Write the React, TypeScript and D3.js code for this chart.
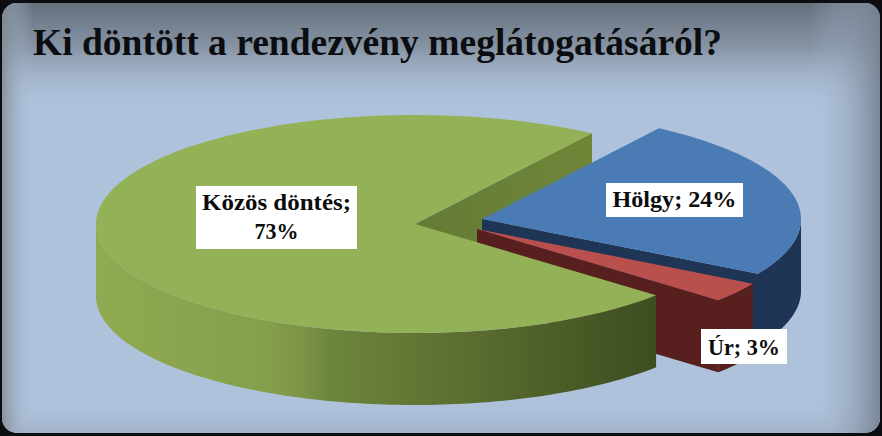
import React from "react";
import * as d3 from "d3";

const W = 882, H = 436;
const title = "Ki döntött a rendezvény meglátogatásáról?";
const categories = ["Hölgy", "Úr", "Közös döntés"];
const values = [24, 3, 73];
const topColors = ["#4a7bb5", "#b9504d", "#93b157"];
const wallColors = ["#1f3556", "#57201e", "url(#greenWall)"];
const offsets: [number, number][] = [[67, -5], [62, 5], [0, 0]];

const cx = 415, cy = 224, rx = 319, ry = 109, depth = 72;
const startAngle = (33.7 * Math.PI) / 180;
const serif = "'Liberation Serif', serif";

const pie = d3.pie<number>().sort(null).startAngle(startAngle).endAngle(startAngle + 2 * Math.PI);
const arcs = pie(values);

const sx = d3.scaleLinear().domain([-1, 1]).range([cx - rx, cx + rx]);
const sy = d3.scaleLinear().domain([-1, 1]).range([cy - ry, cy + ry]);
const line = d3.line<[number, number]>().curve(d3.curveLinear);
const pt = (a: number, dx: number, dy: number): [number, number] => [sx(Math.sin(a)) + dx, sy(-Math.cos(a)) + dy];
const rim = (a0: number, a1: number, dx: number, dy: number) =>
  d3.range(0, 121).map((i) => pt(a0 + ((a1 - a0) * i) / 120, dx, dy));

// outer wall is only drawn for the part of the rim facing the viewer
function outerWall(a0: number, a1: number, dx: number, dy: number) {
  const lo = Math.max(a0, Math.PI / 2);
  const hi = Math.min(a1, (3 * Math.PI) / 2);
  if (hi <= lo) return null;
  const top = rim(lo, hi, dx, dy);
  const bot = rim(hi, lo, dx, dy + depth);
  return line([...top, ...bot]) + "Z";
}
function edgeWall(a: number, dx: number, dy: number) {
  const p = pt(a, dx, dy);
  const c: [number, number] = [cx + dx, cy + dy];
  return line([c, p, [p[0], p[1] + depth], [c[0], c[1] + depth]]) + "Z";
}
function topFace(a0: number, a1: number, dx: number, dy: number) {
  return line([[cx + dx, cy + dy], ...rim(a0, a1, dx, dy)]) + "Z";
}

const labels = [
  { lines: ["Hölgy; 24%"], box: [606, 183, 137, 34], base: [207], widths: [124] },
  { lines: ["Úr; 3%"], box: [701, 329, 86, 35], base: [355], widths: [72] },
  { lines: ["Közös döntés;", "73%"], box: [196, 186, 161, 63], base: [210, 239], widths: [149, 44] },
];

export default function App() {
  const green = arcs[2], blue = arcs[0], red = arcs[1];
  const wall = (i: number, d: string | null, fill: string) => <path key={i} d={d ?? ""} fill={fill} />;
  return (
    <svg width={W} height={H} viewBox={`0 0 ${W} ${H}`} style={{ position: "absolute", left: 0, top: 0 }}>
      <defs>
        <linearGradient id="gTop" x1="0" x2="0" y1="0" y2="1">
          <stop offset="0" stopColor="#666f7c" stopOpacity="1" />
          <stop offset="0.1" stopColor="#808d9c" stopOpacity="0.9" />
          <stop offset="0.26" stopColor="#afc2dc" stopOpacity="0" />
          <stop offset="0.93" stopColor="#a8b9d2" stopOpacity="0" />
          <stop offset="1" stopColor="#a0afc6" stopOpacity="0.8" />
        </linearGradient>
        <linearGradient id="gLeft" x1="0" x2="1" y1="0" y2="0">
          <stop offset="0" stopColor="#808b94" stopOpacity="0.85" />
          <stop offset="0.035" stopColor="#afc2dc" stopOpacity="0" />
          <stop offset="0.92" stopColor="#afc2dc" stopOpacity="0" />
          <stop offset="1" stopColor="#75818f" stopOpacity="0.9" />
        </linearGradient>
        <linearGradient id="greenWall" gradientUnits="userSpaceOnUse" x1={96} x2={654} y1={0} y2={0}>
          <stop offset="0" stopColor="#8faa50" />
          <stop offset="0.3" stopColor="#85a04b" />
          <stop offset="0.37" stopColor="#7d9447" />
          <stop offset="0.42" stopColor="#6d853c" />
          <stop offset="0.62" stopColor="#5f7232" />
          <stop offset="0.85" stopColor="#4a5b27" />
          <stop offset="1" stopColor="#3e4e20" />
        </linearGradient>
        <linearGradient id="greenBack" gradientUnits="userSpaceOnUse" x1={415} x2={591} y1={0} y2={0}>
          <stop offset="0" stopColor="#657a35" />
          <stop offset="1" stopColor="#6f8639" />
        </linearGradient>
      </defs>
      <rect width={W} height={H} fill="#0b0d10" />
      <rect x={2} y={3} width={W - 4} height={H - 6} rx={15} fill="#afc2dc" />
      <rect x={2} y={3} width={W - 4} height={H - 6} rx={15} fill="url(#gTop)" />
      <rect x={2} y={3} width={W - 4} height={H - 6} rx={15} fill="url(#gLeft)" />

      <path d={edgeWall(green.endAngle, 0, 0)} fill="url(#greenBack)" />
      {wall(0, outerWall(blue.startAngle, blue.endAngle, offsets[0][0], offsets[0][1]), wallColors[0])}
      <path d={edgeWall(blue.endAngle, offsets[0][0], offsets[0][1])} fill={wallColors[0]} />
      <path d={topFace(blue.startAngle, blue.endAngle, offsets[0][0], offsets[0][1])} fill={topColors[0]} />
      {wall(1, outerWall(red.startAngle, red.endAngle, offsets[1][0], offsets[1][1]), wallColors[1])}
      <path d={edgeWall(red.endAngle, offsets[1][0], offsets[1][1])} fill={wallColors[1]} />
      <path d={topFace(red.startAngle, red.endAngle, offsets[1][0], offsets[1][1])} fill={topColors[1]} />
      {wall(2, outerWall(green.startAngle, green.endAngle, 0, 0), wallColors[2])}
      <path d={topFace(green.startAngle, green.endAngle, 0, 0)} fill={topColors[2]} />

      <text x={33} y={55} fontFamily={serif} fontWeight="bold" fontSize={37} fill="#0c0d10"
        textLength={689} lengthAdjust="spacingAndGlyphs">{title}</text>

      {labels.map((l, i) => (
        <g key={categories[i]}>
          <rect x={l.box[0]} y={l.box[1]} width={l.box[2]} height={l.box[3]} fill="#ffffff" />
          {l.lines.map((t, j) => (
            <text key={j} x={l.box[0] + l.box[2] / 2} y={l.base[j]} textAnchor="middle" fontFamily={serif}
              fontWeight="bold" fontSize={24} fill="#0c0c0c" textLength={l.widths[j]} lengthAdjust="spacingAndGlyphs">{t}</text>
          ))}
        </g>
      ))}
    </svg>
  );
}
